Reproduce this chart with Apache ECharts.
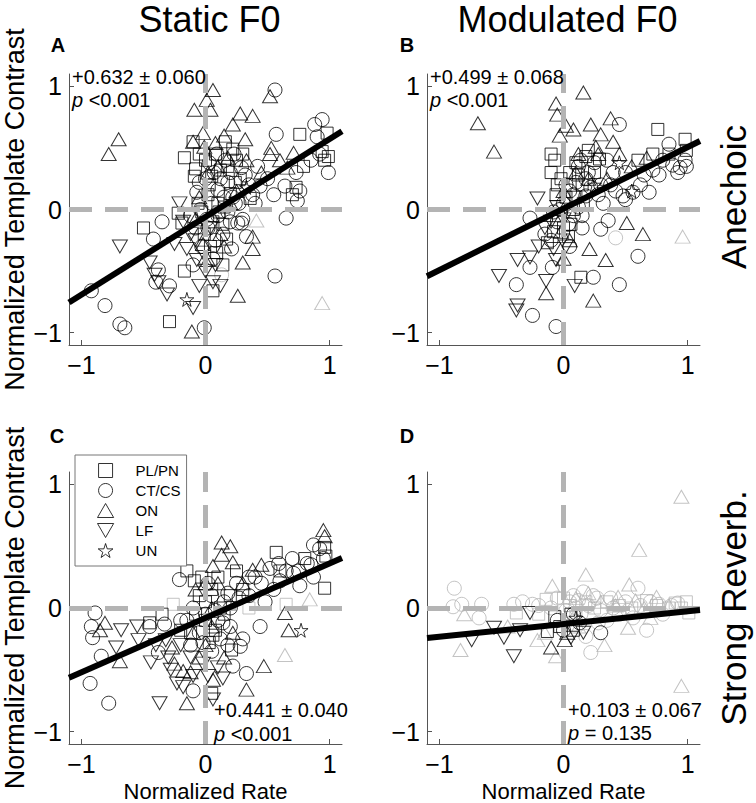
<!DOCTYPE html>
<html><head><meta charset="utf-8">
<script src="https://cdn.jsdelivr.net/npm/echarts@6/dist/echarts.min.js"></script>
<style>html,body{margin:0;padding:0;background:#fff}#c{width:756px;height:803px}</style>
</head><body><div id="c"></div>
<script>
// ---------------- DATA ----------------
const columnTitles = ['Static F0', 'Modulated F0'];
const rowTitles = ['Anechoic', 'Strong Reverb.'];
const panelLetters = ['A', 'B', 'C', 'D'];
const typeNames = ['PL/PN', 'CT/CS', 'ON', 'LF', 'UN'];
const axisTicks = [-1, 0, 1];
const axisRange = [-1.1, 1.1];
const fitSlope = [0.632, 0.499, 0.441, 0.103];
const fitIntercept = [-0.06, 0.007, -0.08, -0.13];
const fitText = ['+0.632 \u00b1 0.060', '+0.499 \u00b1 0.068', '+0.441 \u00b1 0.040', '+0.103 \u00b1 0.067'];
const pText = ['<0.001', '<0.001', '<0.001', '= 0.135'];

// Panel A (Static F0, Anechoic)
const A_square = [[0.76,0.61],[0.98,0.62],[0.99,0.43],[0.96,0.40],[0.79,0.35],[0.73,0.18],[-0.17,0.42],[-0.10,0.55],[0.16,0.55],[0.22,0.49],[-0.50,-0.15],[-0.22,-0.03],[-0.19,-0.11],[-0.17,-0.50],[0.14,-0.45],[0.06,-0.66],[-0.29,-0.91],[0.17,-0.24],[-0.09,0.27],[0.05,0.27],[0.12,0.32],[0.24,0.22],[0.36,0.09],[0.10,0.05],[0.02,0.12],[-0.03,-0.02],[0.06,-0.10],[0.14,-0.12],[0.00,0.40],[0.08,0.45],[-0.08,0.33],[0.30,0.45],[0.20,0.13],[-0.01,-0.20],[0.09,-0.35],[0.94,0.47],[0.70,0.12],[0.03,0.20],[0.18,0.35],[-0.05,0.45],[0.25,0.40],[0.11,-0.02],[-0.06,0.05],[0.28,0.25],[0.04,-0.30],[0.15,0.02]];
const A_circle = [[0.56,0.97],[0.94,0.73],[0.88,0.69],[0.57,0.61],[0.90,0.59],[0.99,0.30],[0.73,0.30],[0.76,0.15],[0.74,0.07],[0.65,-0.07],[0.56,-0.54],[-0.35,-0.10],[-0.42,-0.24],[-0.92,-0.66],[-0.81,-0.78],[-0.69,-0.93],[-0.65,-0.96],[-0.01,-0.96],[-0.38,-0.49],[-0.40,-0.59],[-0.29,-0.62],[0.21,-0.32],[0.29,-0.11],[-0.07,0.14],[0.10,0.16],[0.20,0.30],[0.29,0.34],[0.44,0.19],[0.64,0.19],[0.26,-0.11],[0.30,-0.08],[0.05,0.05],[0.15,0.10],[0.02,-0.15],[0.08,-0.25],[-0.03,-0.30],[0.12,0.25],[0.35,0.20],[0.50,0.25],[0.85,0.40],[0.92,0.45],[0.18,-0.02],[-0.05,0.22],[0.03,0.38],[0.24,0.05],[0.40,0.05],[0.55,0.12],[0.06,-0.40],[-0.10,-0.45],[0.33,-0.22],[-0.12,-0.05],[0.16,0.40],[0.07,0.30],[0.18,0.22],[0.22,0.10],[0.00,0.25],[-0.04,0.00],[0.10,-0.05],[0.27,0.05],[0.32,0.28],[0.14,-0.20],[0.20,-0.10],[0.38,0.12],[0.42,0.35],[0.01,-0.08],[-0.08,-0.15],[0.09,0.45],[0.23,0.45]];
const A_up = [[0.06,0.97],[0.01,0.89],[-0.09,0.81],[0.04,0.81],[0.28,0.78],[0.38,0.76],[0.22,0.69],[0.52,0.92],[-0.70,0.57],[-0.78,0.45],[-0.10,0.55],[-0.02,0.62],[0.32,0.57],[0.52,0.45],[0.71,0.46],[0.38,-0.22],[0.38,-0.32],[0.30,-0.43],[0.26,-0.70],[-0.11,-0.99],[0.02,-0.41],[-0.01,0.51],[0.08,0.54],[0.53,0.50],[0.60,0.40],[0.15,0.60],[0.10,0.35],[-0.05,0.10],[0.25,0.15],[0.45,0.30],[0.05,-0.05],[-0.02,-0.28],[0.12,-0.20],[0.66,0.34],[0.18,0.42],[0.33,0.40],[0.02,0.30],[0.20,0.05],[-0.08,-0.08],[0.15,-0.30]];
const A_down = [[-0.69,-0.30],[-0.21,0.05],[-0.45,-0.43],[-0.41,-0.53],[-0.38,-0.59],[-0.31,-0.69],[-0.10,-0.80],[-0.15,-0.32],[-0.07,-0.41],[0.06,-0.59],[-0.25,-0.28],[-0.12,-0.20],[0.00,-0.50],[-0.05,-0.62],[0.12,-0.62],[-0.18,-0.10],[0.04,-0.15],[-0.02,-0.35],[-0.08,-0.25],[0.08,-0.45]];
const A_star = [[-0.15,-0.73],[0.33,0.18]];
const A_grayUp = [[0.94,-0.76],[0.41,-0.09]];
const A_grayCircle = [[0.13,-0.53]];

// Panel B (Modulated F0, Anechoic)
const B_square = [[-0.10,0.45],[-0.07,0.40],[0.76,0.65],[0.98,0.57],[0.99,0.48],[0.18,0.43],[0.29,0.41],[-0.10,0.30],[-0.13,-0.27],[0.14,-0.55],[-0.05,0.20],[0.02,0.10],[0.08,0.00],[-0.04,-0.05],[0.06,-0.12],[0.12,0.28],[0.20,0.48],[0.15,0.20],[0.85,0.45],[0.60,0.40],[-0.08,-0.18],[0.04,-0.22],[0.10,0.38],[0.72,0.45],[-0.02,0.25],[0.05,0.30],[0.00,-0.15],[0.10,0.10],[-0.06,0.12],[0.16,0.05],[0.25,0.30]];
const B_circle = [[0.45,0.69],[0.85,0.53],[0.88,0.36],[0.94,0.34],[0.99,0.35],[0.72,0.32],[0.77,0.28],[0.56,0.14],[0.69,0.14],[0.48,0.11],[0.32,0.05],[-0.27,-0.07],[0.30,-0.16],[0.36,-0.09],[0.60,-0.38],[-0.27,-0.47],[-0.09,-0.47],[-0.38,-0.61],[0.24,-0.55],[0.45,-0.61],[-0.25,-0.86],[-0.06,-0.95],[0.18,0.11],[0.10,0.22],[0.25,0.38],[0.35,0.40],[0.40,0.30],[0.20,0.30],[0.05,0.15],[0.00,0.05],[0.08,-0.05],[0.15,-0.15],[-0.05,-0.10],[-0.10,-0.25],[0.22,0.18],[0.62,0.20],[0.98,0.40],[0.92,0.30],[0.12,0.35],[0.30,0.20],[0.50,0.08],[-0.15,-0.20],[0.05,-0.30],[0.15,-0.05],[0.02,0.20],[0.08,0.12],[-0.03,0.00],[0.12,0.02],[0.18,0.25],[0.28,0.12],[0.04,-0.12],[-0.08,-0.02],[0.14,0.40],[0.38,0.20],[0.42,0.15],[0.65,0.28],[0.80,0.40],[0.50,0.30]];
const B_up = [[0.16,0.95],[-0.06,0.86],[-0.05,0.77],[-0.69,0.70],[-0.56,0.47],[0.02,0.68],[0.08,0.65],[0.22,0.69],[0.38,0.74],[0.30,0.61],[0.40,0.55],[0.26,0.51],[0.51,-0.11],[0.64,-0.20],[0.34,-0.41],[0.21,-0.32],[-0.14,-0.68],[0.24,-0.74],[0.67,0.42],[0.12,0.45],[0.20,0.25],[0.45,0.45],[-0.03,0.60],[0.05,-0.25],[0.00,-0.40],[0.35,0.25],[0.55,0.35],[0.10,0.30],[0.28,0.45],[0.00,0.15],[-0.02,-0.18]];
const B_down = [[-0.21,0.09],[-0.37,-0.41],[-0.52,-0.54],[-0.27,-0.39],[-0.06,-0.41],[-0.14,-0.58],[0.09,-0.62],[-0.37,-0.78],[-0.38,-0.82],[-0.05,0.02],[-0.15,-0.15],[-0.20,-0.30],[0.02,-0.30],[-0.10,-0.10],[0.00,-0.08],[-0.08,-0.32]];
const B_star = [[0.45,0.38],[0.25,0.20],[0.55,0.15]];
const B_grayUp = [[0.96,-0.22]];
const B_grayCircle = [[0.42,-0.23]];

// Panel C (Static F0, Strong Reverb.)
const C_square = [[0.96,0.49],[0.97,0.42],[0.96,0.16],[0.57,0.45],[-0.15,0.30],[-0.09,0.22],[0.21,-0.34],[0.05,-0.69],[0.05,0.15],[0.10,0.25],[-0.05,0.10],[0.00,-0.10],[-0.12,-0.20],[0.08,-0.18],[0.15,-0.05],[-0.45,-0.12],[-0.35,-0.05],[-0.20,-0.18],[0.25,0.30],[0.80,0.40],[0.60,0.30],[0.03,-0.28],[0.00,0.05],[0.12,0.00],[-0.08,-0.05],[0.20,0.10],[0.06,-0.22],[0.30,0.15],[-0.03,0.25]];
const C_circle = [[0.87,0.51],[0.92,0.48],[0.59,0.36],[0.52,0.32],[0.71,0.28],[0.82,0.36],[0.76,0.18],[0.87,0.25],[-0.89,-0.04],[-0.92,-0.15],[-0.91,-0.24],[-0.84,-0.39],[-0.93,-0.61],[-0.78,-0.77],[-0.21,0.23],[0.44,-0.15],[0.22,-0.47],[0.33,-0.53],[-0.10,-0.67],[-0.38,-0.36],[-0.33,-0.13],[0.28,-0.31],[0.30,-0.25],[0.05,0.10],[0.15,0.05],[0.25,0.20],[0.35,0.10],[0.40,0.25],[0.60,0.22],[0.10,-0.10],[0.00,-0.05],[-0.05,-0.20],[0.20,-0.15],[-0.20,-0.10],[-0.45,-0.15],[0.48,0.05],[0.65,0.30],[0.95,0.40],[0.12,-0.25],[0.05,-0.35],[0.18,0.12],[-0.12,-0.30],[0.70,0.40],[0.02,0.20],[-0.10,0.00],[0.08,-0.02],[0.20,0.00],[0.27,0.08],[0.14,-0.12],[-0.02,-0.28],[0.35,0.25],[0.45,0.20],[0.55,0.15],[0.75,0.30],[0.85,0.35],[-0.15,-0.10],[0.18,-0.30]];
const C_up = [[0.95,0.63],[0.96,0.58],[0.13,0.53],[0.20,0.50],[0.13,0.43],[0.06,0.34],[0.22,0.37],[0.38,0.31],[-0.81,-0.12],[-0.85,-0.18],[-0.69,-0.43],[-0.27,-0.32],[-0.18,-0.51],[-0.12,-0.52],[-0.15,-0.77],[0.64,-0.04],[0.67,-0.18],[0.47,-0.47],[0.33,-0.66],[0.06,-0.58],[-0.25,-0.45],[0.10,0.20],[0.30,0.20],[0.00,0.20],[-0.05,-0.40],[0.15,-0.40],[0.45,0.35],[0.05,0.00],[-0.10,-0.20],[0.05,-0.15],[0.00,-0.30],[0.22,-0.20],[-0.08,0.15]];
const C_down = [[-0.68,-0.18],[-0.72,-0.32],[-0.54,-0.26],[-0.44,-0.44],[-0.37,-0.77],[-0.23,-0.61],[-0.18,-0.64],[0.14,-0.57],[-0.32,-0.26],[-0.55,-0.15],[0.06,-0.74],[-0.28,-0.50],[-0.10,-0.55],[-0.02,-0.45],[0.10,-0.48],[-0.40,-0.30],[-0.12,-0.40],[-0.20,-0.30],[0.02,-0.55],[-0.30,-0.40]];
const C_star = [[0.77,-0.18]];
const C_grayUp = [[0.84,0.07],[0.64,-0.38]];
const C_graySquare = [[-0.26,0.03],[0.35,0.00],[0.65,0.03]];

// Panel D (Modulated F0, Strong Reverb.)
const D_square = [[-0.07,-0.07],[0.06,-0.05],[-0.13,-0.19],[0.08,-0.18],[-0.03,-0.15]];
const D_circle = [[0.30,-0.20],[0.13,-0.12],[0.00,-0.18],[-0.05,-0.10],[0.08,-0.05]];
const D_up = [[-0.10,-0.32],[0.01,-0.26],[0.03,-0.20]];
const D_down = [[-0.27,-0.04],[-0.40,-0.39],[-0.74,-0.26],[-0.48,-0.24],[-0.35,-0.18],[-0.56,-0.16],[0.16,-0.20],[0.06,-0.24]];
const D_star = [[0.10,-0.08]];
const D_grayUp = [[0.95,0.90],[0.61,0.47],[0.18,0.27],[-0.09,0.18],[0.53,0.19],[0.44,0.09],[0.75,0.09],[-0.83,-0.34],[-0.06,-0.39],[0.33,-0.30],[0.52,-0.16],[0.95,-0.63],[-0.21,-0.26],[-0.80,-0.05],[0.20,0.12],[0.30,0.05],[0.65,0.00],[0.85,0.02],[-0.15,-0.20],[0.12,-0.15],[0.10,0.08],[0.42,0.02],[0.58,0.06],[0.70,-0.08],[-0.45,-0.15]];
const D_grayCircle = [[-0.88,0.16],[-0.89,0.01],[-0.82,0.03],[-0.66,0.03],[-0.68,-0.08],[-0.40,0.03],[-0.33,0.05],[-0.25,0.03],[0.08,0.10],[0.16,0.13],[0.27,0.08],[0.60,0.16],[0.50,0.05],[0.67,-0.18],[0.22,-0.36],[0.35,-0.10],[0.56,-0.08],[0.77,0.03],[0.87,0.02],[0.18,-0.23],[0.10,0.00],[0.20,0.02],[0.40,0.00],[0.05,0.05],[-0.10,0.00],[0.45,-0.05],[0.70,0.05],[0.28,-0.12],[0.14,-0.05],[-0.05,0.08],[0.02,-0.02],[0.12,0.06],[0.30,-0.02],[0.38,0.08],[0.52,-0.02],[0.62,0.02],[0.80,-0.05],[0.92,0.04],[0.24,0.10],[-0.20,0.02]];
const D_graySquare = [[-0.14,0.07],[0.00,0.08],[0.05,0.02],[0.45,0.02],[0.67,0.06],[0.99,0.05],[1.01,-0.04],[-0.38,-0.04],[0.10,-0.07],[0.25,0.00],[0.85,0.00],[0.35,0.05],[0.95,0.00],[-0.20,-0.05],[0.18,0.05],[0.55,0.00],[0.75,0.02],[0.90,0.04]];

// ---------------- STYLE / BUILD ----------------
const FONT = '"Liberation Sans", Arial, Helvetica, sans-serif';
const GRAY = '#b4b4b4';
const STAR = 'path://M50,0 L61,35 L98,35 L68,57 L79,91 L50,70 L21,91 L32,57 L2,35 L39,35 Z';
const SYM = {
  square: {symbol: 'rect', size: 12, icon: 'path://M0,0 L10,0 L10,10 L0,10 Z'},
  circle: {symbol: 'circle', size: 14, icon: 'circle'},
  up: {symbol: 'triangle', size: [15, 13], icon: 'path://M0,13 L7.5,0 L15,13 Z'},
  down: {symbol: 'path://M0,0 L15,0 L7.5,13 Z', size: [15, 13], icon: 'path://M0,0 L15,0 L7.5,13 Z'},
  star: {symbol: STAR, size: 14, icon: STAR}
};
const typeKeys = ['square', 'circle', 'up', 'down', 'star'];

const panels = [
  {black: [A_square, A_circle, A_up, A_down, A_star], gray: {up: A_grayUp, circle: A_grayCircle}},
  {black: [B_square, B_circle, B_up, B_down, B_star], gray: {up: B_grayUp, circle: B_grayCircle}},
  {black: [C_square, C_circle, C_up, C_down, C_star], gray: {up: C_grayUp, square: C_graySquare}},
  {black: [D_square, D_circle, D_up, D_down, D_star], gray: {up: D_grayUp, circle: D_grayCircle, square: D_graySquare}}
];

const grids = [
  {left: 69, top: 74, width: 273, height: 271},
  {left: 427, top: 74, width: 273, height: 271},
  {left: 69, top: 472, width: 273, height: 272},
  {left: 427, top: 472, width: 273, height: 272}
].map(g => Object.assign({containLabel: false, outerBoundsMode: 'none'}, g));

function fmt(v) { return v < 0 ? '\u2212' + Math.abs(v) : String(v); }

const xAxes = [], yAxes = [];
for (let i = 0; i < 4; i++) {
  const common = {
    type: 'value', gridIndex: i, min: axisRange[0], max: axisRange[1],
    splitLine: {show: false},
    axisLine: {show: true, onZero: false, lineStyle: {color: '#555', width: 1}},
    axisTick: {show: true, inside: true, length: 5, lineStyle: {color: '#555'}, customValues: axisTicks},
    axisLabel: {customValues: axisTicks, formatter: fmt, fontSize: 25, color: '#000', fontFamily: FONT, margin: 7},
    nameLocation: 'middle',
    nameTextStyle: {fontSize: 22, color: '#000', fontFamily: FONT}
  };
  xAxes.push(Object.assign({}, common, {name: i >= 2 ? 'Normalized Rate' : '', nameGap: 36}));
  yAxes.push(Object.assign({}, common, {
    name: (i % 2 === 0) ? 'Normalized Template Contrast' : '', nameGap: 41,
    nameTextStyle: {fontSize: 27, color: '#000', fontFamily: FONT}
  }));
}

const series = [];
panels.forEach((p, i) => {
  p.black.forEach((arr, k) => {
    const s = SYM[typeKeys[k]];
    series.push({
      type: 'scatter', name: i === 2 ? typeNames[k] : ('p' + i + '-' + typeKeys[k]),
      xAxisIndex: i, yAxisIndex: i, data: arr, symbol: s.symbol, symbolSize: s.size,
      itemStyle: {color: 'rgba(0,0,0,0)', borderColor: '#000', borderWidth: 1},
      emphasis: {disabled: true}, z: 2, silent: true
    });
  });
  Object.keys(p.gray).forEach(key => {
    const s = SYM[key];
    series.push({
      type: 'scatter', name: 'p' + i + '-gray-' + key,
      xAxisIndex: i, yAxisIndex: i, data: p.gray[key], symbol: s.symbol, symbolSize: s.size,
      itemStyle: {color: 'rgba(0,0,0,0)', borderColor: GRAY, borderWidth: 1},
      emphasis: {disabled: true}, z: 1, silent: true
    });
  });
  series.push({
    type: 'line', name: 'ref' + i, xAxisIndex: i, yAxisIndex: i, data: [], symbol: 'none', z: 3, silent: true,
    markLine: {
      silent: true, symbol: 'none', label: {show: false},
      lineStyle: {color: GRAY, width: 5, type: [23, 13], cap: 'butt'},
      emphasis: {disabled: true},
      data: [{xAxis: 0}, {yAxis: 0}]
    }
  });
  series.push({
    type: 'line', name: 'fit' + i, xAxisIndex: i, yAxisIndex: i, symbol: 'none', z: 5, silent: true,
    data: axisRange.map(x => [x, fitSlope[i] * x + fitIntercept[i]]),
    lineStyle: {color: '#000', width: 6}
  });
});

const annPos = [
  {x: 72, y1: 77, y2: 100},
  {x: 430, y1: 77, y2: 100},
  {x: 214, y1: 710, y2: 734},
  {x: 568, y1: 710, y2: 733}
];
const letterPos = [[58, 45], [407, 45], [57, 436], [407, 436]];

const graphic = [];
columnTitles.forEach((t, c) => {
  graphic.push({type: 'text', x: grids[c].left + grids[c].width / 2 + 4, y: 19, silent: true,
    style: {text: t, fontSize: 36, fontFamily: FONT, fill: '#000', align: 'center', verticalAlign: 'middle', textAlign: 'center', textVerticalAlign: 'middle'}});
});
rowTitles.forEach((t, r) => {
  graphic.push({type: 'text', x: 733, y: r === 0 ? 197 : 608, rotation: Math.PI / 2, silent: true,
    style: {text: t, fontSize: 35, fontFamily: FONT, fill: '#000', align: 'center', verticalAlign: 'middle', textAlign: 'center', textVerticalAlign: 'middle'}});
});
panelLetters.forEach((t, i) => {
  graphic.push({type: 'text', x: letterPos[i][0], y: letterPos[i][1], silent: true,
    style: {text: t, fontSize: 20, fontWeight: 'bold', fontFamily: FONT, fill: '#000', align: 'center', verticalAlign: 'middle', textAlign: 'center', textVerticalAlign: 'middle'}});
});
fitText.forEach((t, i) => {
  graphic.push({type: 'text', x: annPos[i].x, y: annPos[i].y1, silent: true, z: 10,
    style: {text: t, fontSize: 20, fontFamily: FONT, fill: '#000', align: 'left', verticalAlign: 'middle', textAlign: 'left', textVerticalAlign: 'middle'}});
  graphic.push({type: 'text', x: annPos[i].x, y: annPos[i].y2, silent: true, z: 10,
    style: {text: '{i|p} ' + pText[i], fontSize: 20, fontFamily: FONT, fill: '#000', align: 'left', verticalAlign: 'middle', textAlign: 'left', textVerticalAlign: 'middle',
      rich: {i: {fontStyle: 'italic', fontSize: 20, fontFamily: FONT, fill: '#000'}}}});
});

const legendRich = {t: {fontSize: 15, color: '#000', fontFamily: FONT}};
const legendData = typeNames.map((n, k) => ({
  name: n, icon: SYM[typeKeys[k]].icon,
  itemStyle: {color: 'rgba(0,0,0,0)', borderColor: '#000', borderWidth: 1}
}));

const option = {
  animation: false,
  backgroundColor: '#fff',
  grid: grids,
  xAxis: xAxes,
  yAxis: yAxes,
  legend: {
    show: true, orient: 'vertical', left: 75, top: 455,
    itemWidth: 50, itemHeight: 14, itemGap: 5,
    padding: [8, 6, 8, 22],
    borderColor: '#777', borderWidth: 1, backgroundColor: '#fff',
    formatter: '{t|{name}}',
    textStyle: {fontSize: 15, color: '#000', fontFamily: FONT, rich: legendRich},
    selectedMode: false, z: 20,
    itemStyle: {color: 'rgba(0,0,0,0)', borderColor: '#000', borderWidth: 1},
    data: legendData
  },
  graphic: graphic,
  series: series
};

const chart = echarts.init(document.getElementById('c'), null, {renderer: 'svg', width: 756, height: 803});
chart.setOption(option);
</script>
</body></html>
